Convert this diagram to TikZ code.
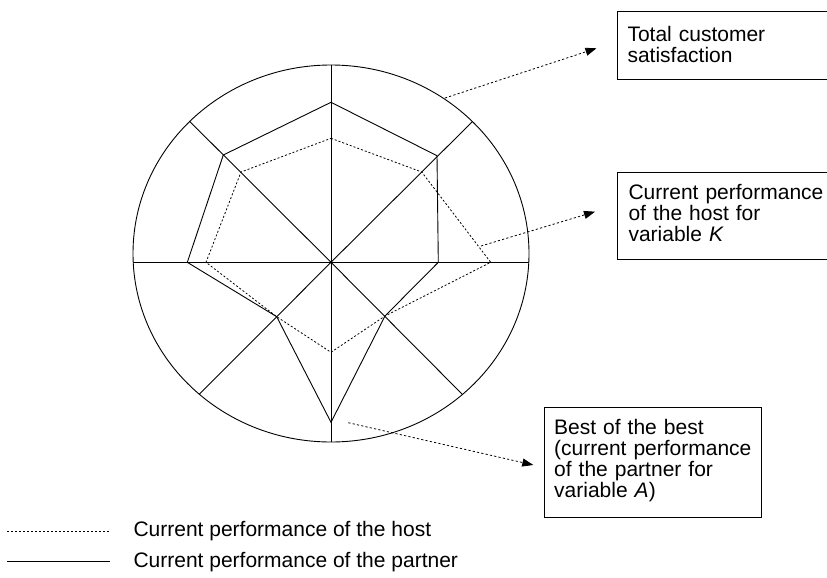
\documentclass[tikz,border=0pt]{standalone}
\usepackage{fontspec}
\setmainfont{Liberation Sans}
\usetikzlibrary{arrows.meta}
\begin{document}
\begin{tikzpicture}[x=1pt,y=-1pt,
  line join=miter,
  frame/.style={line width=0.9pt},
  host/.style={line width=0.8pt, dash pattern=on 2pt off 2pt},
  partner/.style={line width=0.9pt},
  pointer/.style={line width=0.8pt, dash pattern=on 2.2pt off 2.2pt,
    -{Triangle[length=11pt,width=8pt]}},
  labelbox/.style={draw, line width=1pt, inner sep=0pt, anchor=north west},
  boxtext/.style={anchor=base west, inner sep=0pt, text width=215pt, align=left,
    font=\fontsize{21}{21}\selectfont},
  legendtext/.style={anchor=base west, inner sep=0pt,
    font=\fontsize{21}{21}\selectfont}]
\useasboundingbox (0,0) rectangle (827,578);

% hub of the spokes
\coordinate (hub) at (331,262.3);

% outer boundary: total customer satisfaction
\draw[frame] (331,253.5) ellipse [x radius=198pt, y radius=188.5pt];

% eight spokes, one per variable
\foreach \p in {(331,65),(472.3,121.7),(529,262.3),(462.3,394.3),
                (331,442),(199.3,394.3),(132.7,262.3),(189.3,121)}
  \draw[frame] (hub) -- \p;
\fill (hub) circle [radius=1.4pt];

% partner profile
\draw[partner] (331,102.3) -- (437,155.7) -- (438.3,262.3) -- (385,316)
  -- (331,422.3) -- (276.7,316.7) -- (187.3,262.3) -- (223.3,155) -- cycle;

% host profile
\draw[host] (331,138.3) -- (421.7,172) -- (490.7,262.3) -- (385,316)
  -- (331,352.3) -- (276.7,316.7) -- (206,262.3) -- (241,172) -- cycle;

% label boxes
\node[labelbox, minimum width=209.5pt, minimum height=68pt] (tcs) at (617,11) {};
\node[boxtext] (tcstext) at (627.3,41.7) {Total customer\\satisfaction};

\node[labelbox, minimum width=209.2pt, minimum height=87.6pt] (hostk) at (617.3,171.7) {};
\node[boxtext] (hostktext) at (628.3,199) {Current performance\\of the host for\\variable \textit{K}};

\node[labelbox, minimum width=216.7pt, minimum height=110pt] (besta) at (544.3,406.7) {};
\node[boxtext] (bestatext) at (554,434.3) {Best of the best\\(current performance\\of the partner for\\variable \textit{A})};

% pointers from the chart to the labels
\coordinate (p1s) at (445,98);
\coordinate (p1e) at (596.5,48.3);
\coordinate (p2s) at (481,246);
\coordinate (p2e) at (595,211.7);
\coordinate (p3s) at (348.3,422.7);
\coordinate (p3e) at (533.3,465);
\draw[pointer] (p1s) -- (p1e);
\draw[pointer] (p2s) -- (p2e);
\draw[pointer] (p3s) -- (p3e);

% legend
\coordinate (l1a) at (7,531);
\coordinate (l1b) at (110,531);
\coordinate (l2a) at (7,561);
\coordinate (l2b) at (110,561);
\draw[host] (l1a) -- (l1b);
\draw[partner] (l2a) -- (l2b);
\node[legendtext] (leghost) at (133.3,536.5) {Current performance of the host};
\node[legendtext] (legpartner) at (133.3,567) {Current performance of the partner};
\end{tikzpicture}
\end{document}
